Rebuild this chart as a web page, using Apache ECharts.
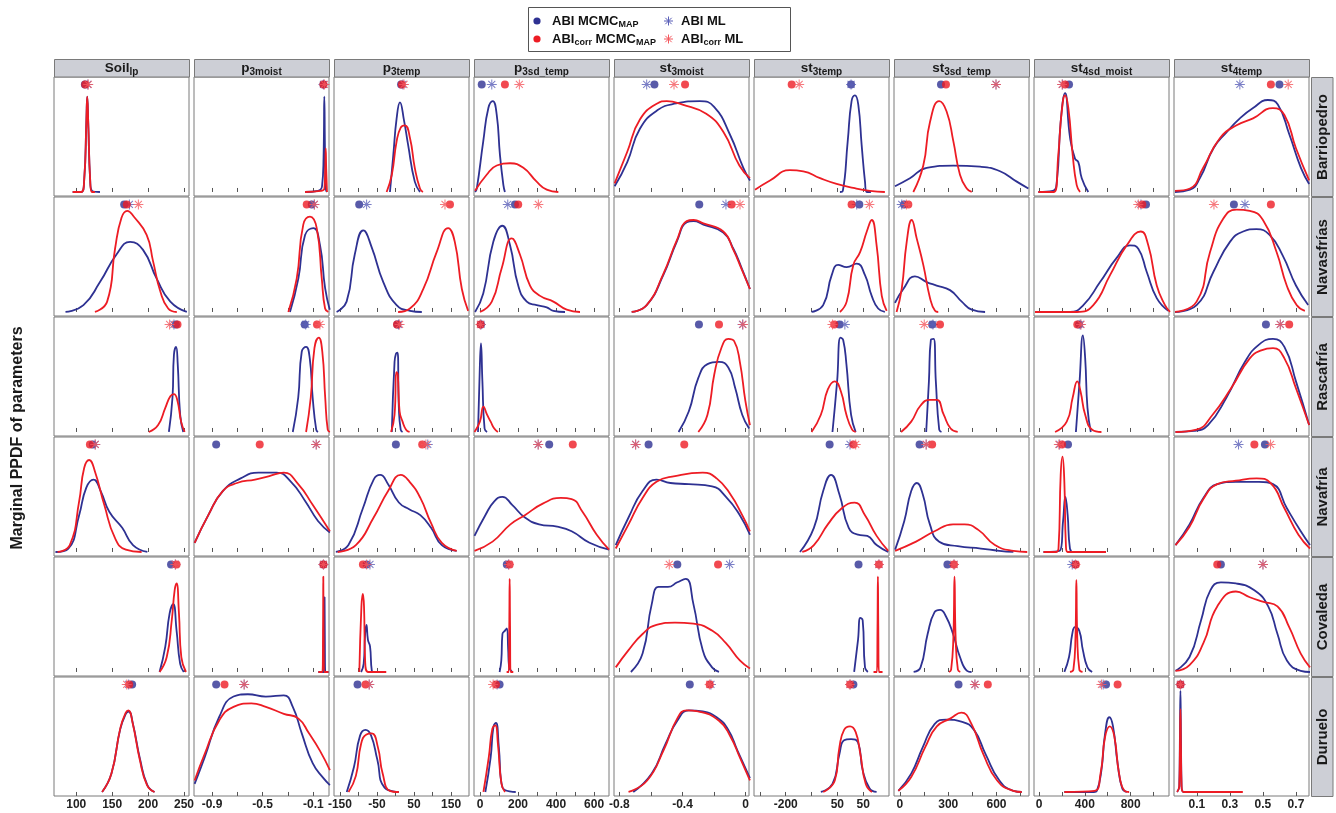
<!DOCTYPE html>
<html><head><meta charset="utf-8">
<script src="https://cdn.jsdelivr.net/npm/echarts@6/dist/echarts.min.js"></script>
<style>html,body{margin:0;padding:0;background:#fff}#c{width:1336px;height:813px}</style>
</head><body><div id="c"></div>
<script>
// ---------- categories ----------
const headerMain = ['Soil','p','p','p','st','st','st','st','st'];
const headerSub  = ['lp','3moist','3temp','3sd_temp','3moist','3temp','3sd_temp','4sd_moist','4temp'];
const sites = ['Barriopedro','Navasfrías','Rascafría','Navafría','Covaleda','Duruelo'];

// ---------- axes ----------
const xMin = [69, -1.042, -166, -31.6, -0.834, -323, -37, -44, -0.039];
const xMax = [257, 0.024, 198.3, 678.5, 0.021, 200, 802, 1135, 0.779];
const tickValues = [
  [100,150,200,250],[-0.9,-0.7,-0.5,-0.3,-0.1],[-150,-100,-50,0,50,100,150],
  [0,100,200,300,400,500,600],[-0.8,-0.6,-0.4,-0.2,0],[-300,-200,-100,0,100],
  [0,150,300,450,600,750],[0,200,400,600,800,1000],[0.1,0.3,0.5,0.7]];
const labelValues = [
  [100,150,200,250],[-0.9,-0.5,-0.1],[-150,-50,50,150],[0,200,400,600],
  [-0.8,-0.4,0],[-200,0,100],[0,300,600],[0,400,800],[0.1,0.3,0.5,0.7]];
const labelTexts = [
  ['100','150','200','250'],['-0.9','-0.5','-0.1'],['-150','-50','50','150'],['0','200','400','600'],
  ['-0.8','-0.4','0'],['-200','50','50'],['0','300','600'],['0','400','800'],['0.1','0.3','0.5','0.7']];

// ---------- markers per panel: [ABI MCMC_MAP, ABI ML, ABIcorr MCMC_MAP, ABIcorr ML] ----------
const barriopedroMarkers = [[112,116,112.5,116.7],[-0.02,-0.02,-0.02,-0.012],[15,20,17,23],[9,62,131,207],[-0.578,-0.627,-0.384,-0.454],[53,53,-177,-148],[255,597,286,597],[262,205,227,201],[0.6,0.36,0.548,0.653]];
const navasfriasMarkers = [[166.7,174,170.4,186.5],[-0.112,-0.092,-0.152,-0.092],[-98,-78,147,133.5],[184,146,201,307],[-0.294,-0.125,-0.089,-0.036],[85,75,55,124],[25,11,52,40],[934,890,902,867],[0.324,0.391,0.548,0.203]];
const rascafriaMarkers = [[238.8,236,241,230],[-0.168,-0.16,-0.071,-0.048],[5,8,4,11],[5,5,3,2],[-0.296,-0.02,-0.169,-0.017],[8,29,-12,-19],[200,205,249,151],[350,360,334,367],[0.518,0.605,0.659,0.605]];
const navafriaMarkers = [[123,126.4,119,126.4],[-0.867,-0.077,-0.523,-0.077],[1,87,72,82],[364,306,488,306],[-0.615,-0.697,-0.389,-0.697],[-30,49,62,71],[122,163,200,163],[253,180,201,173],[0.512,0.352,0.448,0.546]];
const covaledaMarkers = [[232,238,239.7,238],[-0.02,-0.02,-0.02,-0.02],[-78,-69,-88,-78],[141,150,156,152],[-0.433,-0.102,-0.175,-0.484],[82,161,161,161],[295,336,336,336],[315,290,322,318],[0.245,0.5,0.223,0.5]];
const dueloMarkers = [[177.8,173,173.8,170.3],[-0.867,-0.646,-0.801,-0.646],[-102.5,-71,-81,-71],[103,90,84,69],[-0.354,-0.22,-0.228,-0.228],[62,49,49,49],[364,466,546,466],[585,560,686,545],[0,0,0,0]];

// ---------- marginal densities (x, relative density) ----------
const barriopedroBlue = [
  [[95,0],[107,0],[111,0.1],[114,0.6],[115.3,0.83],[116.7,0.6],[119.4,0.1],[122,0.01],[133,0]],
  [[-0.165,0],[-0.063,0.01],[-0.031,0.05],[-0.019,0.3],[-0.013,0.83],[-0.007,0.3],[0.0,0.02],[0.008,0]],
  [[-15,0],[-6,0.32],[3,0.64],[12,0.78],[23,0.62],[34,0.41],[52,0.09],[66,0]],
  [[-26,0],[-17,0.03],[17,0.44],[44,0.73],[67,0.79],[88,0.67],[105,0.32],[123,0.06],[131,0]],
  [[-0.83,0.05],[-0.75,0.26],[-0.67,0.55],[-0.56,0.71],[-0.44,0.77],[-0.29,0.79],[-0.2,0.74],[-0.1,0.5],[-0.015,0.21],[0.027,0.1]],
  [[10,0],[21,0.01],[40,0.44],[55,0.79],[68,0.84],[81,0.76],[94,0.41],[107,0.09],[114,0],[130,0]],
  [[-31,0.05],[62,0.12],[166,0.21],[332,0.23],[498,0.22],[622,0.18],[726,0.09],[798,0.03]],
  [[-6,0],[120,0.01],[155,0.09],[189,0.61],[227,0.86],[271,0.47],[314,0.29],[343,0.26],[373,0.12],[430,0]],
  [[-0.033,0],[0.058,0.02],[0.118,0.12],[0.2,0.38],[0.28,0.52],[0.36,0.64],[0.44,0.73],[0.53,0.8],[0.59,0.76],[0.66,0.5],[0.73,0.21],[0.78,0.07]]
];
const barriopedroRed = [
  [[95,0],[107,0],[111,0.1],[114,0.6],[115.3,0.83],[116.7,0.6],[119.4,0.1],[122,0],[126,0]],
  [[-0.165,0],[-0.04,0.01],[-0.012,0.03],[-0.006,0.2],[-0.002,0.38],[0.002,0.2],[0.008,0]],
  [[-24,0],[-10,0.15],[3,0.44],[14,0.56],[25,0.58],[39,0.47],[52,0.21],[66,0.03],[74,0]],
  [[-26,0.01],[35,0.15],[88,0.23],[158,0.25],[228,0.21],[298,0.09],[351,0.02],[412,0]],
  [[-0.83,0.075],[-0.75,0.35],[-0.67,0.63],[-0.56,0.77],[-0.5,0.79],[-0.4,0.76],[-0.25,0.68],[-0.14,0.52],[-0.04,0.23],[0.027,0.12]],
  [[-319,0.02],[-261,0.1],[-184,0.19],[-132,0.18],[-67,0.12],[-3,0.07],[62,0.035],[126,0.01],[184,0]],
  [[83,0],[145,0.23],[187,0.61],[244,0.79],[290,0.7],[332,0.44],[373,0.15],[415,0.03],[446,0]],
  [[-6,0],[130,0],[168,0.32],[198,0.7],[227,0.84],[256,0.73],[294,0.32],[329,0.06],[358,0]],
  [[-0.033,0.01],[0.058,0.03],[0.138,0.21],[0.24,0.47],[0.34,0.58],[0.44,0.64],[0.56,0.73],[0.63,0.67],[0.7,0.38],[0.78,0.1]]
];
const navasfriasBlue = [
  [[85,0],[110,0.06],[133,0.26],[156,0.5],[175,0.61],[193,0.54],[212,0.29],[231,0.09],[254,0]],
  [[-0.284,0],[-0.218,0.29],[-0.165,0.67],[-0.1,0.73],[-0.047,0.58],[-0.007,0.21],[0.03,0.02]],
  [[-159,0],[-132,0.09],[-110,0.5],[-87,0.71],[-64,0.56],[-33,0.26],[3,0.06],[39,0.01],[71,0]],
  [[-26,0],[17,0.16],[70,0.61],[117,0.75],[158,0.58],[201,0.23],[246,0.09],[298,0.06],[351,0.04],[386,0.01],[447,0]],
  [[-0.722,0],[-0.627,0.06],[-0.522,0.32],[-0.437,0.61],[-0.373,0.78],[-0.33,0.79],[-0.268,0.76],[-0.142,0.69],[-0.078,0.55],[-0.025,0.38],[0.027,0.2]],
  [[-100,0],[-55,0.06],[-22,0.32],[3,0.41],[36,0.39],[75,0.42],[107,0.32],[133,0.14],[158,0.03],[184,0]],
  [[-31,0.08],[21,0.2],[93,0.31],[166,0.26],[228,0.23],[311,0.19],[384,0.09],[446,0.02],[529,0]],
  [[-35,0],[271,0],[387,0.06],[533,0.26],[678,0.47],[794,0.58],[867,0.55],[940,0.35],[1028,0.12],[1129,0.01]],
  [[-0.033,0],[0.098,0.06],[0.2,0.35],[0.3,0.61],[0.38,0.7],[0.46,0.72],[0.54,0.67],[0.62,0.49],[0.7,0.23],[0.774,0.06]]
];
const navasfriasRed = [
  [[126,0],[143,0.09],[154,0.55],[163,0.82],[171,0.88],[180,0.83],[198,0.67],[207,0.44],[217,0.18],[228,0.03],[240,0]],
  [[-0.297,0],[-0.231,0.29],[-0.179,0.76],[-0.126,0.83],[-0.073,0.73],[-0.033,0.29],[-0.007,0.03],[0.019,0]],
  [[7,0],[39,0.03],[75,0.2],[111,0.52],[142,0.73],[160,0.61],[179,0.2],[196,0.01]],
  [[0,0],[62,0.09],[114,0.38],[167,0.64],[210,0.5],[263,0.23],[316,0.14],[386,0.09],[456,0.02],[526,0]],
  [[-0.722,0],[-0.627,0.06],[-0.522,0.33],[-0.437,0.62],[-0.373,0.79],[-0.33,0.8],[-0.268,0.77],[-0.142,0.7],[-0.078,0.54],[-0.025,0.37],[0.027,0.2]],
  [[10,0],[36,0.09],[62,0.41],[88,0.52],[114,0.7],[133,0.8],[152,0.58],[172,0.14],[191,0.01]],
  [[-21,0],[11,0.2],[42,0.61],[73,0.8],[104,0.64],[145,0.41],[187,0.12],[218,0.01],[238,0]],
  [[-35,0],[330,0],[474,0.06],[620,0.32],[766,0.58],[888,0.7],[954,0.58],[1028,0.23],[1100,0.06],[1144,0]],
  [[-0.033,0],[0.098,0.09],[0.179,0.52],[0.259,0.81],[0.34,0.89],[0.42,0.88],[0.5,0.8],[0.583,0.52],[0.644,0.23],[0.704,0.06],[0.754,0.01]]
];
const rascafriaBlue = [
  [[229,0],[234,0.3],[236,0.67],[239,0.74],[241.3,0.59],[244.7,0.15],[249,0]],
  [[-0.262,0],[-0.219,0.3],[-0.191,0.7],[-0.157,0.74],[-0.128,0.64],[-0.105,0.3],[-0.077,0.02],[-0.063,0]],
  [[-10,0],[-2.6,0.61],[1.2,0.68],[5.3,0.69],[9,0.21],[14,0.02],[19,0]],
  [[-10.5,0],[-0.5,0.59],[5,0.77],[12.6,0.44],[24,0.03],[37,0]],
  [[-0.425,0],[-0.36,0.18],[-0.3,0.47],[-0.242,0.59],[-0.169,0.61],[-0.11,0.56],[-0.066,0.38],[-0.022,0.15],[0.022,0.03]],
  [[-19,0],[-1,0.44],[12,0.82],[22.5,0.8],[35,0.59],[53,0.15],[71,0]],
  [[163,0],[180,0.44],[192,0.8],[209,0.81],[223,0.44],[244,0.02],[258,0]],
  [[322,0],[354,0.44],[383,0.84],[403,0.64],[423,0.21],[452,0]],
  [[-0.03,0],[0.082,0.01],[0.167,0.06],[0.279,0.3],[0.391,0.61],[0.476,0.76],[0.561,0.81],[0.63,0.74],[0.7,0.44],[0.78,0.06]]
];
const rascafriaRed = [
  [[201,0],[214,0.06],[224,0.21],[231,0.31],[236,0.33],[241,0.27],[246,0.09],[251,0]],
  [[-0.157,0],[-0.12,0.3],[-0.091,0.73],[-0.057,0.82],[-0.029,0.7],[-0.006,0.3],[0.014,0.02],[0.031,0]],
  [[-12,0],[-2.6,0.15],[2.3,0.52],[6,0.5],[11,0.18],[19,0.09],[28.5,0.02],[38,0]],
  [[-29,0],[-0.5,0.09],[18,0.22],[37,0.15],[56,0.09],[75,0.03],[94,0]],
  [[-0.3,0],[-0.242,0.15],[-0.199,0.5],[-0.154,0.73],[-0.11,0.81],[-0.073,0.79],[-0.037,0.61],[-0.002,0.27],[0.027,0.06]],
  [[-100,0],[-64,0.15],[-37,0.37],[-10,0.44],[14,0.35],[35,0.15],[57,0.02],[71,0]],
  [[7,0],[70,0.09],[128,0.23],[186,0.28],[229,0.28],[272,0.15],[315,0.03],[359,0]],
  [[140,0],[242,0.09],[294,0.3],[334,0.44],[363,0.35],[403,0.15],[464,0.02],[545,0]],
  [[-0.03,0],[0.097,0.02],[0.195,0.15],[0.307,0.38],[0.42,0.64],[0.49,0.71],[0.561,0.73],[0.63,0.64],[0.7,0.38],[0.78,0.06]]
];
const navafriaBlue = [
  [[71,0],[89,0.03],[104,0.32],[114,0.56],[124,0.63],[134,0.53],[146,0.35],[164,0.21],[179,0.06],[199,0]],
  [[-1.037,0.08],[-0.929,0.32],[-0.815,0.53],[-0.674,0.64],[-0.532,0.69],[-0.39,0.69],[-0.276,0.61],[-0.162,0.44],[-0.063,0.27],[0.031,0.17]],
  [[-161,0],[-127,0.06],[-88,0.38],[-59,0.63],[-41.5,0.67],[-20,0.59],[9,0.43],[38,0.37],[67,0.32],[96,0.21],[125,0.06],[165,0.01]],
  [[-29,0.14],[28,0.32],[75,0.44],[118,0.48],[169,0.41],[236,0.3],[311,0.24],[406,0.22],[482,0.18],[576,0.08],[679,0.02]],
  [[-0.823,0.06],[-0.742,0.3],[-0.653,0.53],[-0.565,0.63],[-0.477,0.6],[-0.36,0.59],[-0.213,0.57],[-0.125,0.48],[-0.037,0.32],[0.027,0.15]],
  [[-145,0],[-91,0.21],[-55,0.53],[-24.5,0.67],[8,0.5],[44,0.21],[80,0.15],[116,0.14],[152,0.06],[197,0]],
  [[-30,0.02],[27,0.27],[70,0.53],[105,0.6],[142,0.5],[186,0.24],[244,0.09],[359,0.05],[503,0.03],[618,0.01],[705,0]],
  [[39,0],[181,0.01],[210,0.27],[230,0.48],[250,0.32],[270,0.03],[302,0],[585,0]],
  [[-0.03,0.06],[0.055,0.24],[0.139,0.47],[0.223,0.59],[0.336,0.61],[0.476,0.61],[0.561,0.59],[0.645,0.38],[0.729,0.18],[0.785,0.06]]
];
const navafriaRed = [
  [[74,0],[91,0.06],[104,0.44],[111,0.73],[118,0.8],[126,0.7],[139,0.41],[154,0.12],[169,0.02],[191,0]],
  [[-1.037,0.08],[-0.929,0.32],[-0.815,0.53],[-0.702,0.6],[-0.56,0.63],[-0.447,0.66],[-0.333,0.69],[-0.219,0.59],[-0.105,0.41],[0.031,0.18]],
  [[-156,0],[-107,0.06],[-59,0.3],[-20,0.53],[14,0.67],[38,0.61],[67,0.47],[96,0.25],[125,0.08],[165,0.01]],
  [[-29,0.01],[66,0.09],[160,0.24],[236,0.32],[330,0.42],[425,0.47],[482,0.46],[539,0.35],[614,0.15],[679,0.02]],
  [[-0.823,0.03],[-0.742,0.24],[-0.653,0.47],[-0.565,0.61],[-0.448,0.66],[-0.272,0.69],[-0.184,0.64],[-0.096,0.5],[-0.022,0.32],[0.027,0.18]],
  [[-136,0],[-91,0.06],[-37,0.24],[17,0.38],[67,0.43],[107,0.32],[152,0.14],[197,0.01]],
  [[-30,0.01],[100,0.09],[215,0.18],[330,0.24],[402,0.24],[489,0.19],[590,0.06],[705,0.01],[791,0]],
  [[39,0],[150,0],[170,0.03],[189,0.67],[205,0.83],[221,0.61],[235,0.05],[250,0],[585,0]],
  [[-0.03,0.06],[0.055,0.22],[0.139,0.46],[0.223,0.59],[0.336,0.62],[0.462,0.64],[0.546,0.6],[0.63,0.38],[0.715,0.15],[0.785,0.03]]
];
const covaledaBlue = [
  [[216,0],[224,0.22],[230,0.51],[235,0.59],[239.7,0.36],[244.7,0.07],[249.7,0]],
  [[-0.06,0],[-0.017,0],[-0.013,0.3],[-0.011,0.65],[-0.009,0.3],[-0.005,0],[0.02,0]],
  [[-92.8,0],[-86,0.07],[-82,0.33],[-78.5,0.41],[-74.4,0.28],[-68.7,0.22],[-63.9,0.01],[-59,0]],
  [[103,0],[112,0.1],[118,0.33],[131.5,0.36],[141,0.38],[148,0.2],[152.5,0.05],[169,0]],
  [[-0.727,0],[-0.653,0.16],[-0.595,0.59],[-0.551,0.74],[-0.492,0.74],[-0.433,0.78],[-0.38,0.81],[-0.331,0.59],[-0.272,0.19],[-0.213,0.04],[-0.169,0]],
  [[65,0],[80,0.28],[89,0.47],[98,0.45],[107,0.04],[118,0]],
  [[85,0],[128,0.04],[172,0.33],[215,0.52],[249,0.54],[287,0.48],[330,0.33],[373,0.13],[417,0.01],[445,0]],
  [[221,0],[262,0.13],[290,0.33],[314,0.39],[351,0.36],[383,0.19],[423,0.04],[464,0]],
  [[-0.03,0.01],[0.055,0.13],[0.125,0.45],[0.181,0.71],[0.245,0.78],[0.336,0.77],[0.448,0.71],[0.532,0.57],[0.588,0.33],[0.645,0.1],[0.729,0.01],[0.785,0]]
];
const covaledaRed = [
  [[216,0],[226,0.13],[233,0.45],[237,0.71],[239.7,0.77],[243,0.51],[246.3,0.13],[252.8,0]],
  [[-0.06,0],[-0.028,0],[-0.023,0.4],[-0.021,0.83],[-0.019,0.4],[-0.014,0],[0.02,0]],
  [[-97.6,0],[-92,0.57],[-88.2,0.68],[-85,0.57],[-82,0.1],[-73.6,0],[-25,0]],
  [[140,0],[151,0],[154,0.4],[156,0.81],[158,0.4],[161,0],[175,0]],
  [[-0.823,0.04],[-0.742,0.19],[-0.653,0.33],[-0.565,0.41],[-0.448,0.43],[-0.331,0.42],[-0.213,0.36],[-0.125,0.25],[-0.037,0.1],[0.027,0.03]],
  [[140,0],[153,0],[155.5,0.4],[157,0.83],[158.5,0.4],[161,0],[175,0]],
  [[305,0],[318,0.02],[332,0.3],[339,0.83],[346,0.3],[360,0.02],[375,0]],
  [[270,0],[300,0.02],[318,0.3],[326,0.8],[334,0.3],[352,0.02],[380,0]],
  [[-0.03,0.01],[0.055,0.06],[0.139,0.25],[0.223,0.57],[0.336,0.7],[0.42,0.65],[0.504,0.61],[0.588,0.57],[0.659,0.39],[0.729,0.16],[0.785,0.04]]
];
const dueloBlue = [
  [[136,0],[149,0.16],[161,0.54],[169,0.68],[173,0.7],[179,0.59],[189,0.28],[199,0.06],[209,0]],
  [[-1.037,0.07],[-0.958,0.3],[-0.844,0.65],[-0.73,0.83],[-0.617,0.85],[-0.475,0.83],[-0.333,0.84],[-0.262,0.74],[-0.191,0.51],[-0.105,0.25],[-0.02,0.12],[0.031,0.06]],
  [[-131.6,0],[-112,0.22],[-95.7,0.49],[-81,0.54],[-65.8,0.49],[-49,0.28],[-30,0.04],[9,0]],
  [[28,0],[56,0.3],[71,0.57],[84,0.6],[99,0.39],[118,0.04],[188,0]],
  [[-0.712,0],[-0.595,0.16],[-0.507,0.42],[-0.433,0.62],[-0.36,0.71],[-0.272,0.7],[-0.184,0.65],[-0.11,0.54],[-0.052,0.36],[0.027,0.12]],
  [[-64,0],[-19,0.07],[8,0.33],[26,0.45],[53,0.46],[80,0.43],[98,0.19],[125,0.03],[152,0]],
  [[-10,0.01],[70,0.16],[142,0.39],[215,0.59],[287,0.63],[387,0.61],[460,0.54],[532,0.33],[618,0.1],[705,0.01],[757,0]],
  [[221,0],[480,0],[505,0.01],[545,0.19],[577,0.51],[614,0.65],[646,0.57],[686,0.25],[727,0.03],[767,0]],
  [[-0.02,0],[-0.007,0.05],[-0.003,0.5],[0,0.88],[0.003,0.5],[0.007,0.05],[0.02,0],[0.1,0]]
];
const dueloRed = [
  [[136,0],[149,0.16],[161.5,0.56],[169,0.69],[172.5,0.71],[178.5,0.6],[188.5,0.28],[198.5,0.06],[209,0]],
  [[-1.037,0.1],[-0.958,0.33],[-0.844,0.62],[-0.73,0.74],[-0.589,0.77],[-0.475,0.74],[-0.333,0.68],[-0.219,0.64],[-0.134,0.51],[-0.048,0.36],[0.031,0.19]],
  [[-126.8,0],[-107,0.14],[-92.8,0.42],[-78.5,0.5],[-64,0.51],[-47.6,0.39],[-34.7,0.16],[-15.3,0.01],[9,0]],
  [[18,0],[46,0.3],[65,0.55],[80.5,0.58],[94,0.42],[113,0.07],[131.5,0]],
  [[-0.742,0],[-0.624,0.1],[-0.521,0.36],[-0.433,0.64],[-0.375,0.71],[-0.301,0.7],[-0.169,0.62],[-0.096,0.48],[-0.037,0.3],[0.027,0.1]],
  [[-55,0],[-10,0.1],[8,0.39],[26,0.54],[49,0.57],[71,0.52],[89,0.33],[110,0.07],[134,0]],
  [[-10,0.01],[70,0.13],[157,0.39],[229,0.57],[315,0.64],[382,0.69],[445,0.59],[518,0.33],[604,0.1],[705,0.01],[757,0]],
  [[221,0],[485,0.01],[537,0.16],[577,0.48],[618,0.57],[658,0.48],[699,0.16],[747,0.01],[787,0]],
  [[-0.02,0],[-0.007,0.05],[-0.003,0.4],[0,0.72],[0.003,0.4],[0.007,0.05],[0.02,0],[0.378,0]]
];

const blueRows = [barriopedroBlue, navasfriasBlue, rascafriaBlue, navafriaBlue, covaledaBlue, dueloBlue];
const redRows = [barriopedroRed, navasfriasRed, rascafriaRed, navafriaRed, covaledaRed, dueloRed];
const markerRows = [barriopedroMarkers, navasfriasMarkers, rascafriaMarkers, navafriaMarkers, covaledaMarkers, dueloMarkers];

// ---------- styling ----------
const FONT = '"Liberation Sans", Arial, Helvetica, sans-serif';
const BLUE = '#2e3192', RED = '#ed1c24', BLUE_STAR = '#5a5fb8', RED_STAR = '#f4585e';
const STAR = 'path://M9 0L11 0L11 20L9 20Z M0 9L20 9L20 11L0 11Z M3.71 2.29L17.71 16.29L16.29 17.71L2.29 3.71Z M17.71 3.71L3.71 17.71L2.29 16.29L16.29 2.29Z';
const MARK_Y = 0.935;
const STRIP = '#cdcfd6', EDGE = '#7a7a7a';

const grids = [], xAxes = [], yAxes = [], series = [];
for (let r = 0; r < 6; r++) {
  for (let c = 0; c < 9; c++) {
    const idx = r * 9 + c;
    grids.push({left: 54 + 140 * c, top: 77 + 120 * r, width: 135, height: 119,
      show: true, borderColor: EDGE, borderWidth: 1, backgroundColor: '#fff'});
    xAxes.push({type: 'value', gridIndex: idx, min: xMin[c], max: xMax[c],
      axisLine: {show: false}, splitLine: {show: false},
      axisTick: {show: true, inside: r < 5, length: 4, customValues: tickValues[c], lineStyle: {color: '#555', width: 1}},
      axisLabel: {show: r === 5, customValues: labelValues[c], margin: 3,
        fontFamily: FONT, fontWeight: 'bold', fontSize: 12, color: '#222',
        formatter: (v) => { const k = labelValues[c].findIndex(t => Math.abs(t - v) < 1e-9); return k >= 0 ? labelTexts[c][k] : ''; }}
    });
    yAxes.push({type: 'value', gridIndex: idx, min: -0.035, max: 1, show: false});
    const base = {xAxisIndex: idx, yAxisIndex: idx, silent: true, animation: false};
    series.push(Object.assign({type: 'line', data: blueRows[r][c], smooth: 0.5, showSymbol: false,
      lineStyle: {color: BLUE, width: 1.8}, z: 2}, base));
    series.push(Object.assign({type: 'line', data: redRows[r][c], smooth: 0.5, showSymbol: false,
      lineStyle: {color: RED, width: 1.8}, z: 2}, base));
    const m = markerRows[r][c];
    series.push(Object.assign({type: 'scatter', data: [[m[0], MARK_Y]], symbol: 'circle', symbolSize: 8, itemStyle: {color: BLUE}, z: 3}, base));
    series.push(Object.assign({type: 'scatter', data: [[m[1], MARK_Y]], symbol: STAR, symbolSize: 10, itemStyle: {color: BLUE_STAR}, z: 3}, base));
    series.push(Object.assign({type: 'scatter', data: [[m[2], MARK_Y]], symbol: 'circle', symbolSize: 8, itemStyle: {color: RED}, z: 3}, base));
    series.push(Object.assign({type: 'scatter', data: [[m[3], MARK_Y]], symbol: STAR, symbolSize: 10, itemStyle: {color: RED_STAR}, z: 3}, base));
  }
}

// ---------- graphic: strips, titles, legend ----------
const graphic = [];
const richHead = {
  m: {fontFamily: FONT, fontWeight: 'bold', fontSize: 13.5, fill: '#1a1a1a', lineHeight: 18},
  s: {fontFamily: FONT, fontWeight: 'bold', fontSize: 10, fill: '#1a1a1a', lineHeight: 12, verticalAlign: 'bottom'}
};
for (let c = 0; c < 9; c++) {
  graphic.push({type: 'rect', shape: {x: 54 + 140 * c + 0.5, y: 59.5, width: 135, height: 17.5}, style: {fill: STRIP, stroke: EDGE, lineWidth: 1}, z: 10});
  graphic.push({type: 'text', x: 54 + 140 * c + 67.5, y: 68, z: 11,
    style: {text: '{m|' + headerMain[c] + '}{s|' + headerSub[c] + '}', rich: richHead, align: 'center', verticalAlign: 'middle'}});
}
for (let r = 0; r < 6; r++) {
  graphic.push({type: 'rect', shape: {x: 1311.5, y: 77 + 120 * r + 0.5, width: 21.5, height: 119}, style: {fill: STRIP, stroke: EDGE, lineWidth: 1}, z: 10});
  graphic.push({type: 'text', x: 1322.5, y: 77 + 120 * r + 60, rotation: Math.PI / 2, z: 11,
    style: {text: sites[r], font: 'bold 15px ' + FONT, fill: '#1a1a1a', align: 'center', verticalAlign: 'middle'}});
}
graphic.push({type: 'text', x: 18, y: 438, rotation: Math.PI / 2, z: 11,
  style: {text: 'Marginal PPDF of parameters', font: 'bold 16px ' + FONT, fill: '#1a1a1a', align: 'center', verticalAlign: 'middle'}});

// legend (box, symbols and labels)
const richLeg = {
  m: {fontFamily: FONT, fontWeight: 'bold', fontSize: 13, fill: '#111', lineHeight: 17},
  s: {fontFamily: FONT, fontWeight: 'bold', fontSize: 9, fill: '#111', lineHeight: 11, verticalAlign: 'bottom'}
};
graphic.push({type: 'rect', shape: {x: 528.5, y: 7.5, width: 262, height: 44}, style: {fill: '#fff', stroke: '#555', lineWidth: 1}, z: 10});
graphic.push({type: 'circle', shape: {cx: 537, cy: 21, r: 3.6}, style: {fill: BLUE}, z: 11});
graphic.push({type: 'circle', shape: {cx: 537, cy: 39, r: 3.6}, style: {fill: RED}, z: 11});
function legendStar(cx, cy, color) {
  const a = 4.5, d = 3.2;
  [[cx - a, cy, cx + a, cy], [cx, cy - a, cx, cy + a], [cx - d, cy - d, cx + d, cy + d], [cx - d, cy + d, cx + d, cy - d]]
    .forEach(s => graphic.push({type: 'line', shape: {x1: s[0], y1: s[1], x2: s[2], y2: s[3]}, style: {stroke: color, lineWidth: 1}, z: 11}));
}
legendStar(668.5, 21, BLUE_STAR);
legendStar(668.5, 39, RED_STAR);
graphic.push({type: 'text', x: 552, y: 21, z: 11, style: {text: '{m|ABI MCMC}{s|MAP}', rich: richLeg, align: 'left', verticalAlign: 'middle'}});
graphic.push({type: 'text', x: 552, y: 39, z: 11, style: {text: '{m|ABI}{s|corr}{m| MCMC}{s|MAP}', rich: richLeg, align: 'left', verticalAlign: 'middle'}});
graphic.push({type: 'text', x: 681, y: 21, z: 11, style: {text: '{m|ABI ML}', rich: richLeg, align: 'left', verticalAlign: 'middle'}});
graphic.push({type: 'text', x: 681, y: 39, z: 11, style: {text: '{m|ABI}{s|corr}{m| ML}', rich: richLeg, align: 'left', verticalAlign: 'middle'}});

const chart = echarts.init(document.getElementById('c'), null, {renderer: 'canvas'});
chart.setOption({
  backgroundColor: '#fff', animation: false,
  grid: grids, xAxis: xAxes, yAxis: yAxes, series: series, graphic: graphic
});
</script></body></html>
